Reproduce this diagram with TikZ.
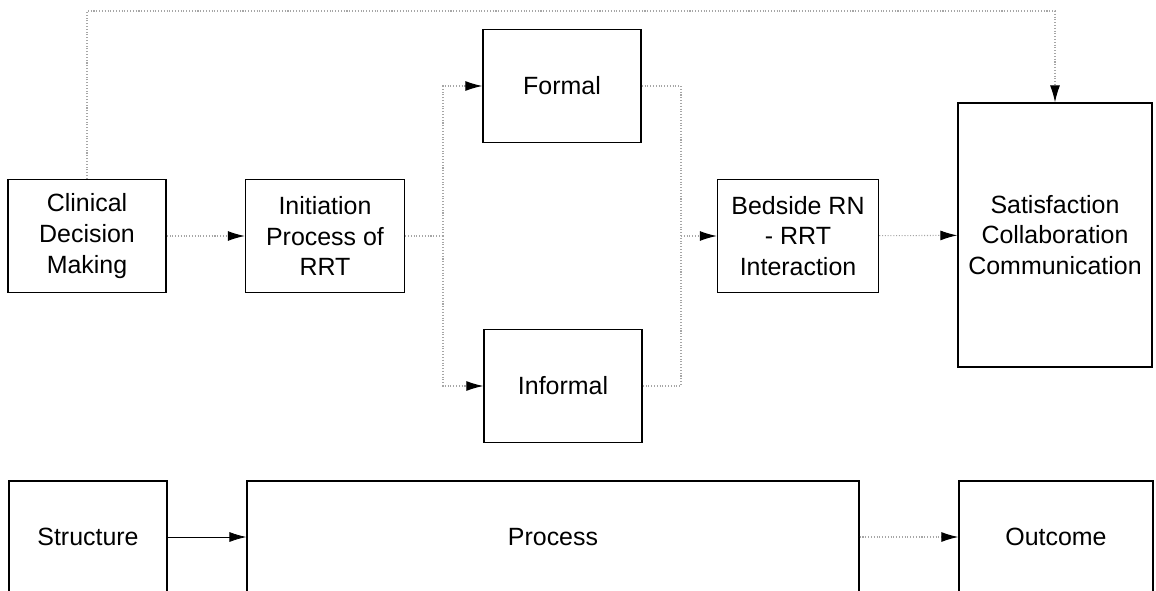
\documentclass[tikz,border=0pt]{standalone}
\usepackage{fontspec}
\setmainfont{Liberation Sans}
\usetikzlibrary{arrows.meta}

\tikzset{
  box/.style={draw,line width=0.8pt,minimum width=3.16cm,minimum height=2.26cm,
    align=center,inner sep=1pt,font=\fontsize{14.2}{17.4}\selectfont},
  link/.style={draw=gray!70,densely dotted,line width=0.6pt},
  tip/.style={-{Latex[black,length=0.34cm,width=0.2cm]}}
}

\begin{document}
\begin{tikzpicture}[x=0.02cm,y=-0.02cm]
	\clip (0,0) rectangle (1156,591);
	% upper model
	\node[box] (clin) at (87,236) {Clinical\\Decision\\Making};
	\node[box,minimum width=3.18cm] (init) at (325,236) {Initiation\\Process of\\RRT};
	\node[box] (formal) at (562,86) {Formal};
	\node[box] (informal) at (563,386) {Informal};
	\node[box,minimum width=3.22cm] (bedside) at (798,236) {Bedside RN\\- RRT\\Interaction};
	\node[box,minimum width=3.88cm,minimum height=5.28cm] (satis) at (1055,235) {Satisfaction\\Collaboration\\Communication};
	% lower model
	\node[box,minimum height=2.24cm] (struct) at (88,537) {Structure};
	\node[box,minimum width=12.24cm,minimum height=2.24cm] (proc) at (553,537) {Process};
	\node[box,minimum width=3.88cm,minimum height=2.24cm] (outc) at (1056,537) {Outcome};
	\coordinate (splitL) at (443,236);
	\coordinate (splitR) at (681,236);
	\coordinate (topL) at (87,11);

	\draw[link,tip] (clin) -- (init);
	\draw[link] (init) -- (splitL);
	\draw[link,tip] (splitL) |- (formal);
	\draw[link,tip] (splitL) |- (informal);
	\draw[link] (formal) -| (splitR);
	\draw[link] (informal) -| (splitR);
	\draw[link,tip] (splitR) -- (bedside);
	\draw[link,tip] (bedside) -- (satis);
	\draw[link,tip] (clin.north) -- (topL) -| (satis.north);
	\draw[line width=0.45pt,tip] (struct) -- (proc);
	\draw[link,tip] (proc) -- (outc);
\end{tikzpicture}
\end{document}
